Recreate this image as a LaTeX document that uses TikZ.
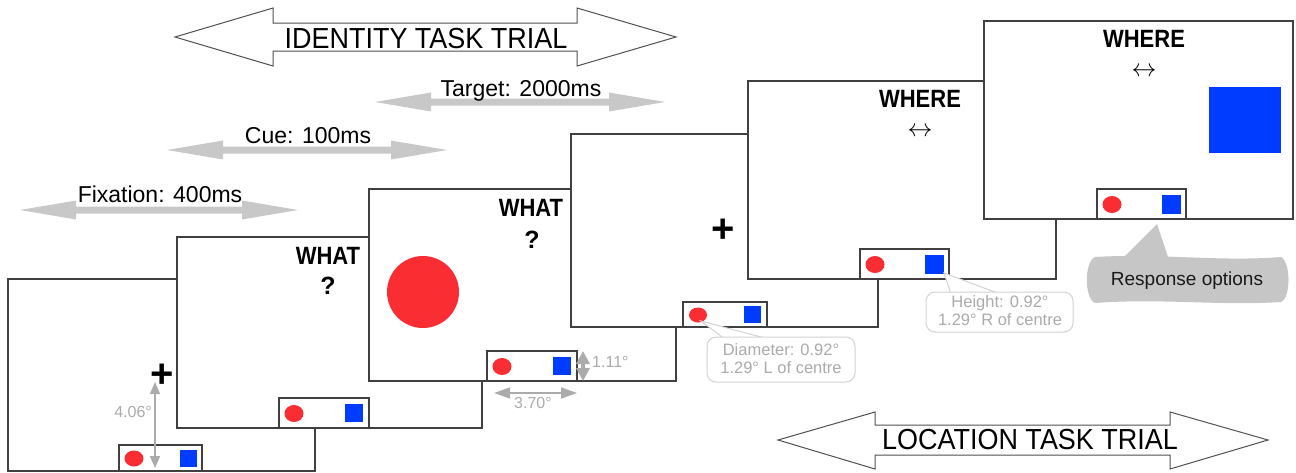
\documentclass[tikz,border=0pt]{standalone}
\usepackage{fontspec}
\setmainfont{Liberation Sans}
\usetikzlibrary{arrows.meta}
\definecolor{framegray}{HTML}{404040}
\definecolor{stimred}{HTML}{FA2D32}
\definecolor{stimblue}{HTML}{003CFF}
\definecolor{timegray}{HTML}{C8C8C8}
\definecolor{annogray}{HTML}{ABABAB}
\definecolor{callgray}{HTML}{D2D2D2}
\definecolor{respgray}{HTML}{C6C6C6}
\definecolor{titlegray}{HTML}{505050}
% timing arrow: x-left, x-right, y
\newcommand\mytimearrow[3]{%
  \fill[timegray] (#1,#3) -- (#1+56,#3-9.5) -- (#1+56,#3-3.5) -- (#2-56,#3-3.5) -- (#2-56,#3-9.5) -- (#2,#3)
    -- (#2-56,#3+9.5) -- (#2-56,#3+3.5) -- (#1+56,#3+3.5) -- (#1+56,#3+9.5) -- cycle;}
% response box: x, y, w, h, square offset, square size, circle rx, circle ry
\newcommand\myrespbox[8]{%
  \path[respbox] (#1,#2) rectangle (#1+#3,#2+#4);
  \fill[stimred] (#1+15,#2+#4/2+0.5) ellipse (#7 and #8);
  \fill[stimblue] (#1+#5,#2+#4/2-#6/2) rectangle (#1+#5+#6,#2+#4/2+#6/2);}
\newcommand\mynarrow[1]{\scalebox{0.88}[1]{#1}}
\newcommand\mytitlenarrow[1]{\scalebox{0.93}[1]{#1}}
\begin{document}
\begin{tikzpicture}[x=1pt,y=-1pt,
  screen/.style={draw=framegray, line width=1.3pt, fill=white},
  respbox/.style={draw=framegray, line width=1.1pt, fill=white},
  cuelbl/.style={font=\fontsize{25}{27}\selectfont\bfseries, inner sep=0pt, anchor=base},
  timelbl/.style={font=\fontsize{23}{26}\selectfont, inner sep=0pt, anchor=base},
  titlelbl/.style={font=\fontsize{29}{31}\selectfont, inner sep=0pt, anchor=base},
  annolbl/.style={font=\fontsize{16}{18}\selectfont, text=annogray, inner sep=0pt},
  calltext/.style={font=\fontsize{16.5}{18}\selectfont, text=annogray, align=center, inner sep=0pt},
  callout/.style={draw=callgray, line width=1pt, fill=white, rounded corners=9pt},
  wedge/.style={draw=callgray, line width=1pt, fill=white},
  bigarrow/.style={draw=titlegray, line width=1pt, fill=white},
  crosslbl/.style={font=\fontsize{40}{40}\selectfont\bfseries, inner sep=0pt},
  annoarrow/.style={draw=annogray, line width=1.3pt, {Triangle[length=12pt,width=10pt]}-{Triangle[length=12pt,width=10pt]}},
]
\useasboundingbox (0,0) rectangle (1296,472);

% ---- identity task arrow
\path[bigarrow] (175,37) -- (273,8) -- (273,23) -- (577,23) -- (577,8) -- (676,37) -- (577,66) -- (577,51) -- (273,51) -- (273,66) -- cycle;
\node[titlelbl] (idlbl) at (426,48) {\mytitlenarrow{IDENTITY TASK TRIAL}};

% ---- timing arrows
\mytimearrow{375}{665}{102}
\node[timelbl] (tgtlbl) at (521,96) {Target: 2000ms};
\mytimearrow{167}{447}{150}
\node[timelbl] (cuelbl) at (308,143) {Cue: 100ms};
\mytimearrow{20}{298}{210}
\node[timelbl] (fixlbl) at (160,202) {Fixation: 400ms};

% ---- frame 1: fixation
\path[screen] (8,279) rectangle (315,471);
\node[crosslbl] (cross1) at (162,376) {+};
\myrespbox{119}{445}{83}{26}{61}{17}{9.5}{8}
\coordinate (d1a) at (155,382);
\coordinate (d1b) at (155,468);
\draw[annoarrow] (d1a) -- (d1b);
\node[annolbl, anchor=east] (deg406) at (152,412) {4.06°};

% ---- frame 2: cue
\path[screen] (177,237) rectangle (482,428);
\node[cuelbl] (what2) at (328,264) {\mynarrow{WHAT}};
\node[cuelbl] (q2) at (328,294) {?};
\myrespbox{279}{398}{90}{30}{66}{18}{9.5}{8.5}

% ---- frame 3: target (identity)
\path[screen] (369,189) rectangle (676,381);
\fill[stimred] (423,292) circle (36);
\node[cuelbl] (what3) at (531,216) {\mynarrow{WHAT}};
\node[cuelbl] (q3) at (532,248) {?};
\myrespbox{487}{351}{90}{30}{66}{18}{9.5}{8.5}
\coordinate (d2a) at (583,351);
\coordinate (d2b) at (583,381);
\draw[draw=annogray, line width=4pt, {Triangle[length=13pt,width=13pt]}-{Triangle[length=13pt,width=13pt]}] (d2a) -- (d2b);
\node[annolbl, anchor=west] (deg111) at (592,362) {1.11°};
\coordinate (d3a) at (494,393);
\coordinate (d3b) at (577,393);
\draw[draw=annogray, line width=1.5pt, {Triangle[length=16pt,width=11pt]}-{Triangle[length=16pt,width=11pt]}] (d3a) -- (d3b);
\node[annolbl] (deg370) at (533,403) {3.70°};

% ---- frame 4: fixation (location)
\path[screen] (571,134) rectangle (878,327);
\node[crosslbl] (cross4) at (723,231) {+};
\myrespbox{683}{302}{84}{25}{61}{17}{9}{7.5}

% ---- diameter callout
\path[wedge] (701,321) -- (772,340) -- (726,340) -- cycle;
\path[callout] (707,337) rectangle (855,382);
\node[calltext] (diam) at (781,359) {Diameter: 0.92°\\1.29° L of centre};

% ---- frame 5: cue (location)
\path[screen] (748,81) rectangle (1056,279);
\node[cuelbl] (where5) at (920,107) {\mynarrow{WHERE}};
\node[font=\fontsize{26}{26}\selectfont, inner sep=0pt] (lr5) at (920,132) {$\leftrightarrow$};
\myrespbox{860}{249}{89}{30}{65}{19}{9.5}{8.5}

% ---- height callout
\path[wedge] (944,273) -- (1000,294) -- (951,294) -- cycle;
\path[callout] (926,292) rectangle (1073,332);
\node[calltext] (height) at (1000,311) {Height: 0.92°\\1.29° R of centre};

% ---- frame 6: target (location)
\path[screen] (984,21) rectangle (1293,219);
\node[cuelbl] (where6) at (1144,47) {\mynarrow{WHERE}};
\node[font=\fontsize{26}{26}\selectfont, inner sep=0pt] (lr6) at (1144,72) {$\leftrightarrow$};
\fill[stimblue] (1209,87) rectangle (1281,153);
\myrespbox{1097}{189}{89}{30}{65}{19}{9.5}{8.5}

% ---- response options callout
\fill[respgray] (1157,224) -- (1169,260) -- (1121,260) -- cycle;
\fill[respgray] (1095,257) .. controls (1160,253) and (1220,262) .. (1281,257)
  .. controls (1291,262) and (1291,298) .. (1281,302)
  .. controls (1220,306) and (1160,298) .. (1095,303)
  .. controls (1084,298) and (1084,262) .. (1095,257) -- cycle;
\node[font=\fontsize{19}{21}\selectfont, text=black!90, inner sep=0pt] (resp) at (1187,281) {Response options};

% ---- location task arrow
\path[bigarrow] (778,440) -- (875,412) -- (875,425) -- (1170,425) -- (1170,412) -- (1268,440) -- (1170,469) -- (1170,455) -- (875,455) -- (875,469) -- cycle;
\node[titlelbl] (loclbl) at (1030,449) {\mytitlenarrow{LOCATION TASK TRIAL}};
\end{tikzpicture}
\end{document}
